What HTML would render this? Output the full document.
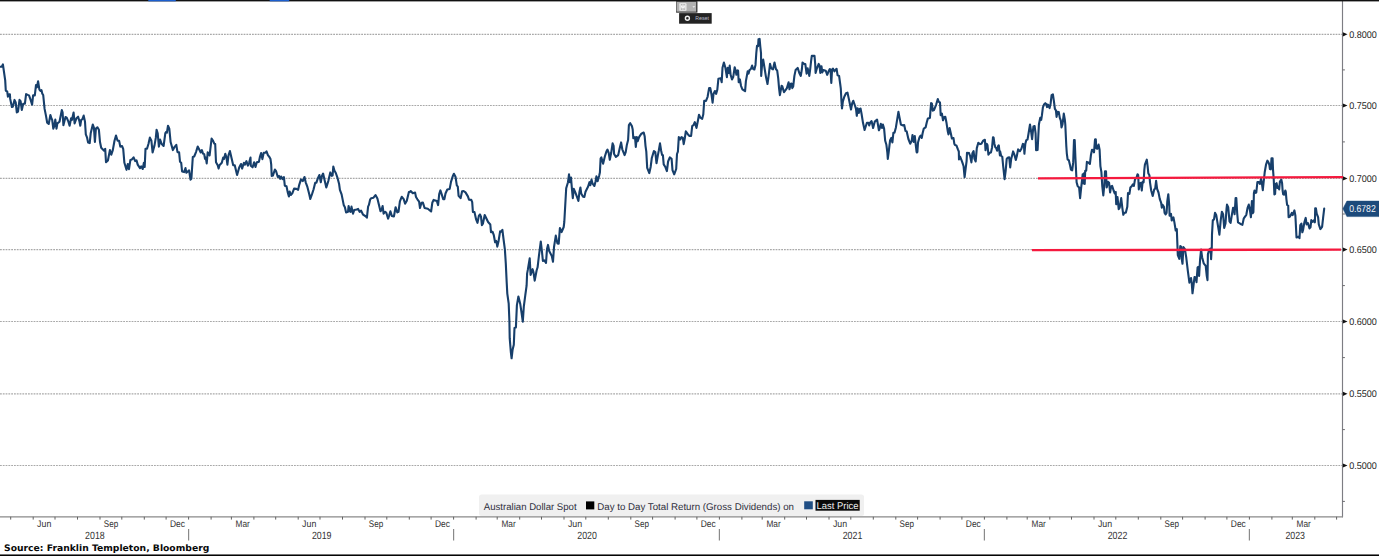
<!DOCTYPE html>
<html lang="en"><head><meta charset="utf-8"><title>Australian Dollar Spot</title>
<style>
html,body{margin:0;padding:0;background:#fff;}
body{width:1379px;height:556px;overflow:hidden;position:relative;font-family:"Liberation Sans","DejaVu Sans",sans-serif;}
svg{position:absolute;left:0;top:0;display:block;}
text{font-family:"Liberation Sans","DejaVu Sans",sans-serif;text-rendering:geometricPrecision;}
.ax{font-size:9.7px;fill:#1c1c1c;}
.mo{font-size:9.6px;fill:#333;}
.yr{font-size:10.5px;fill:#333;}
.lg{font-size:9.8px;fill:#2e2e3c;}
.src{font-family:"DejaVu Sans","Liberation Sans",sans-serif;font-weight:bold;font-size:9.0px;fill:#0a0a0a;}
</style></head><body>
<svg width="1379" height="556" viewBox="0 0 1379 556">
<rect x="0" y="0" width="1379" height="556" fill="#ffffff"/>

<g stroke="#a9a9a9" stroke-width="1.2" stroke-dasharray="1.8 1.0" fill="none">
<line x1="0" y1="34.3" x2="1342.0" y2="34.3"/>
<line x1="0" y1="105.5" x2="1342.0" y2="105.5"/>
<line x1="0" y1="178.4" x2="1342.0" y2="178.4"/>
<line x1="0" y1="249.6" x2="1342.0" y2="249.6"/>
<line x1="0" y1="321.5" x2="1342.0" y2="321.5"/>
<line x1="0" y1="393.8" x2="1342.0" y2="393.8"/>
<line x1="0" y1="465.5" x2="1342.0" y2="465.5"/>
</g>
<line x1="1342.5" y1="1" x2="1342.5" y2="517.3" stroke="#7d7d83" stroke-width="1.15"/>
<line x1="0" y1="516.8" x2="1343.0" y2="516.8" stroke="#8a8a8a" stroke-width="1.3"/>
<path d="M1342.9 32.2 L1347.5 34.3 L1342.9 36.4 Z" fill="#111"/>
<text class="ax" x="1349.2" y="37.9" textLength="27.6" lengthAdjust="spacingAndGlyphs">0.8000</text>
<path d="M1342.9 103.4 L1347.5 105.5 L1342.9 107.6 Z" fill="#111"/>
<text class="ax" x="1349.2" y="109.1" textLength="27.6" lengthAdjust="spacingAndGlyphs">0.7500</text>
<path d="M1342.9 176.3 L1347.5 178.4 L1342.9 180.5 Z" fill="#111"/>
<text class="ax" x="1349.2" y="182.0" textLength="27.6" lengthAdjust="spacingAndGlyphs">0.7000</text>
<path d="M1342.9 247.5 L1347.5 249.6 L1342.9 251.7 Z" fill="#111"/>
<text class="ax" x="1349.2" y="253.2" textLength="27.6" lengthAdjust="spacingAndGlyphs">0.6500</text>
<path d="M1342.9 319.4 L1347.5 321.5 L1342.9 323.6 Z" fill="#111"/>
<text class="ax" x="1349.2" y="325.1" textLength="27.6" lengthAdjust="spacingAndGlyphs">0.6000</text>
<path d="M1342.9 391.7 L1347.5 393.8 L1342.9 395.9 Z" fill="#111"/>
<text class="ax" x="1349.2" y="397.4" textLength="27.6" lengthAdjust="spacingAndGlyphs">0.5500</text>
<path d="M1342.9 463.4 L1347.5 465.5 L1342.9 467.6 Z" fill="#111"/>
<text class="ax" x="1349.2" y="469.1" textLength="27.6" lengthAdjust="spacingAndGlyphs">0.5000</text>
<line x1="1342.5" y1="69.9" x2="1344.9" y2="69.9" stroke="#6a6a6e" stroke-width="1"/>
<line x1="1342.5" y1="141.9" x2="1344.9" y2="141.9" stroke="#6a6a6e" stroke-width="1"/>
<line x1="1342.5" y1="214.0" x2="1344.9" y2="214.0" stroke="#6a6a6e" stroke-width="1"/>
<line x1="1342.5" y1="285.6" x2="1344.9" y2="285.6" stroke="#6a6a6e" stroke-width="1"/>
<line x1="1342.5" y1="357.6" x2="1344.9" y2="357.6" stroke="#6a6a6e" stroke-width="1"/>
<line x1="1342.5" y1="429.6" x2="1344.9" y2="429.6" stroke="#6a6a6e" stroke-width="1"/>
<line x1="1342.5" y1="501.4" x2="1344.9" y2="501.4" stroke="#6a6a6e" stroke-width="1"/>
<line x1="10.7" y1="516.8" x2="10.7" y2="519.6" stroke="#626262" stroke-width="1"/>
<line x1="33.2" y1="516.8" x2="33.2" y2="519.6" stroke="#626262" stroke-width="1"/>
<line x1="55.0" y1="516.8" x2="55.0" y2="519.6" stroke="#626262" stroke-width="1"/>
<line x1="77.5" y1="516.8" x2="77.5" y2="519.6" stroke="#626262" stroke-width="1"/>
<line x1="100.0" y1="516.8" x2="100.0" y2="519.6" stroke="#626262" stroke-width="1"/>
<line x1="121.8" y1="516.8" x2="121.8" y2="519.6" stroke="#626262" stroke-width="1"/>
<line x1="144.3" y1="516.8" x2="144.3" y2="519.6" stroke="#626262" stroke-width="1"/>
<line x1="166.1" y1="516.8" x2="166.1" y2="519.6" stroke="#626262" stroke-width="1"/>
<line x1="188.6" y1="516.8" x2="188.6" y2="519.6" stroke="#626262" stroke-width="1"/>
<line x1="188.6" y1="529" x2="188.6" y2="540.5" stroke="#8a8a8a" stroke-width="1.2"/>
<line x1="211.1" y1="516.8" x2="211.1" y2="519.6" stroke="#626262" stroke-width="1"/>
<line x1="231.4" y1="516.8" x2="231.4" y2="519.6" stroke="#626262" stroke-width="1"/>
<line x1="253.9" y1="516.8" x2="253.9" y2="519.6" stroke="#626262" stroke-width="1"/>
<line x1="275.7" y1="516.8" x2="275.7" y2="519.6" stroke="#626262" stroke-width="1"/>
<line x1="298.2" y1="516.8" x2="298.2" y2="519.6" stroke="#626262" stroke-width="1"/>
<line x1="320.0" y1="516.8" x2="320.0" y2="519.6" stroke="#626262" stroke-width="1"/>
<line x1="342.5" y1="516.8" x2="342.5" y2="519.6" stroke="#626262" stroke-width="1"/>
<line x1="365.0" y1="516.8" x2="365.0" y2="519.6" stroke="#626262" stroke-width="1"/>
<line x1="386.8" y1="516.8" x2="386.8" y2="519.6" stroke="#626262" stroke-width="1"/>
<line x1="409.3" y1="516.8" x2="409.3" y2="519.6" stroke="#626262" stroke-width="1"/>
<line x1="431.1" y1="516.8" x2="431.1" y2="519.6" stroke="#626262" stroke-width="1"/>
<line x1="453.6" y1="516.8" x2="453.6" y2="519.6" stroke="#626262" stroke-width="1"/>
<line x1="453.6" y1="529" x2="453.6" y2="540.5" stroke="#8a8a8a" stroke-width="1.2"/>
<line x1="476.1" y1="516.8" x2="476.1" y2="519.6" stroke="#626262" stroke-width="1"/>
<line x1="497.2" y1="516.8" x2="497.2" y2="519.6" stroke="#626262" stroke-width="1"/>
<line x1="519.7" y1="516.8" x2="519.7" y2="519.6" stroke="#626262" stroke-width="1"/>
<line x1="541.5" y1="516.8" x2="541.5" y2="519.6" stroke="#626262" stroke-width="1"/>
<line x1="564.0" y1="516.8" x2="564.0" y2="519.6" stroke="#626262" stroke-width="1"/>
<line x1="585.8" y1="516.8" x2="585.8" y2="519.6" stroke="#626262" stroke-width="1"/>
<line x1="608.3" y1="516.8" x2="608.3" y2="519.6" stroke="#626262" stroke-width="1"/>
<line x1="630.8" y1="516.8" x2="630.8" y2="519.6" stroke="#626262" stroke-width="1"/>
<line x1="652.6" y1="516.8" x2="652.6" y2="519.6" stroke="#626262" stroke-width="1"/>
<line x1="675.1" y1="516.8" x2="675.1" y2="519.6" stroke="#626262" stroke-width="1"/>
<line x1="696.9" y1="516.8" x2="696.9" y2="519.6" stroke="#626262" stroke-width="1"/>
<line x1="719.4" y1="516.8" x2="719.4" y2="519.6" stroke="#626262" stroke-width="1"/>
<line x1="719.4" y1="529" x2="719.4" y2="540.5" stroke="#8a8a8a" stroke-width="1.2"/>
<line x1="741.9" y1="516.8" x2="741.9" y2="519.6" stroke="#626262" stroke-width="1"/>
<line x1="762.2" y1="516.8" x2="762.2" y2="519.6" stroke="#626262" stroke-width="1"/>
<line x1="784.7" y1="516.8" x2="784.7" y2="519.6" stroke="#626262" stroke-width="1"/>
<line x1="806.5" y1="516.8" x2="806.5" y2="519.6" stroke="#626262" stroke-width="1"/>
<line x1="829.0" y1="516.8" x2="829.0" y2="519.6" stroke="#626262" stroke-width="1"/>
<line x1="850.8" y1="516.8" x2="850.8" y2="519.6" stroke="#626262" stroke-width="1"/>
<line x1="873.3" y1="516.8" x2="873.3" y2="519.6" stroke="#626262" stroke-width="1"/>
<line x1="895.8" y1="516.8" x2="895.8" y2="519.6" stroke="#626262" stroke-width="1"/>
<line x1="917.6" y1="516.8" x2="917.6" y2="519.6" stroke="#626262" stroke-width="1"/>
<line x1="940.1" y1="516.8" x2="940.1" y2="519.6" stroke="#626262" stroke-width="1"/>
<line x1="961.9" y1="516.8" x2="961.9" y2="519.6" stroke="#626262" stroke-width="1"/>
<line x1="984.4" y1="516.8" x2="984.4" y2="519.6" stroke="#626262" stroke-width="1"/>
<line x1="984.4" y1="529" x2="984.4" y2="540.5" stroke="#8a8a8a" stroke-width="1.2"/>
<line x1="1006.9" y1="516.8" x2="1006.9" y2="519.6" stroke="#626262" stroke-width="1"/>
<line x1="1027.2" y1="516.8" x2="1027.2" y2="519.6" stroke="#626262" stroke-width="1"/>
<line x1="1049.8" y1="516.8" x2="1049.8" y2="519.6" stroke="#626262" stroke-width="1"/>
<line x1="1071.5" y1="516.8" x2="1071.5" y2="519.6" stroke="#626262" stroke-width="1"/>
<line x1="1094.0" y1="516.8" x2="1094.0" y2="519.6" stroke="#626262" stroke-width="1"/>
<line x1="1115.8" y1="516.8" x2="1115.8" y2="519.6" stroke="#626262" stroke-width="1"/>
<line x1="1138.3" y1="516.8" x2="1138.3" y2="519.6" stroke="#626262" stroke-width="1"/>
<line x1="1160.8" y1="516.8" x2="1160.8" y2="519.6" stroke="#626262" stroke-width="1"/>
<line x1="1182.6" y1="516.8" x2="1182.6" y2="519.6" stroke="#626262" stroke-width="1"/>
<line x1="1205.1" y1="516.8" x2="1205.1" y2="519.6" stroke="#626262" stroke-width="1"/>
<line x1="1226.9" y1="516.8" x2="1226.9" y2="519.6" stroke="#626262" stroke-width="1"/>
<line x1="1249.4" y1="516.8" x2="1249.4" y2="519.6" stroke="#626262" stroke-width="1"/>
<line x1="1249.4" y1="529" x2="1249.4" y2="540.5" stroke="#8a8a8a" stroke-width="1.2"/>
<line x1="1271.9" y1="516.8" x2="1271.9" y2="519.6" stroke="#626262" stroke-width="1"/>
<line x1="1292.3" y1="516.8" x2="1292.3" y2="519.6" stroke="#626262" stroke-width="1"/>
<line x1="1314.8" y1="516.8" x2="1314.8" y2="519.6" stroke="#626262" stroke-width="1"/>
<line x1="1336.6" y1="516.8" x2="1336.6" y2="519.6" stroke="#626262" stroke-width="1"/>
<text class="mo" x="37.1" y="526.9" textLength="14.2" lengthAdjust="spacingAndGlyphs">Jun</text>
<text class="mo" x="103.8" y="526.9" textLength="14.4" lengthAdjust="spacingAndGlyphs">Sep</text>
<text class="mo" x="169.9" y="526.9" textLength="15.0" lengthAdjust="spacingAndGlyphs">Dec</text>
<text class="mo" x="235.6" y="526.9" textLength="14.3" lengthAdjust="spacingAndGlyphs">Mar</text>
<text class="mo" x="302.1" y="526.9" textLength="14.2" lengthAdjust="spacingAndGlyphs">Jun</text>
<text class="mo" x="368.8" y="526.9" textLength="14.4" lengthAdjust="spacingAndGlyphs">Sep</text>
<text class="mo" x="435.0" y="526.9" textLength="15.0" lengthAdjust="spacingAndGlyphs">Dec</text>
<text class="mo" x="501.4" y="526.9" textLength="14.3" lengthAdjust="spacingAndGlyphs">Mar</text>
<text class="mo" x="567.9" y="526.9" textLength="14.2" lengthAdjust="spacingAndGlyphs">Jun</text>
<text class="mo" x="634.6" y="526.9" textLength="14.4" lengthAdjust="spacingAndGlyphs">Sep</text>
<text class="mo" x="700.7" y="526.9" textLength="15.0" lengthAdjust="spacingAndGlyphs">Dec</text>
<text class="mo" x="766.4" y="526.9" textLength="14.3" lengthAdjust="spacingAndGlyphs">Mar</text>
<text class="mo" x="832.9" y="526.9" textLength="14.2" lengthAdjust="spacingAndGlyphs">Jun</text>
<text class="mo" x="899.6" y="526.9" textLength="14.4" lengthAdjust="spacingAndGlyphs">Sep</text>
<text class="mo" x="965.8" y="526.9" textLength="15.0" lengthAdjust="spacingAndGlyphs">Dec</text>
<text class="mo" x="1031.5" y="526.9" textLength="14.3" lengthAdjust="spacingAndGlyphs">Mar</text>
<text class="mo" x="1097.9" y="526.9" textLength="14.2" lengthAdjust="spacingAndGlyphs">Jun</text>
<text class="mo" x="1164.6" y="526.9" textLength="14.4" lengthAdjust="spacingAndGlyphs">Sep</text>
<text class="mo" x="1230.8" y="526.9" textLength="15.0" lengthAdjust="spacingAndGlyphs">Dec</text>
<text class="mo" x="1296.5" y="526.9" textLength="14.3" lengthAdjust="spacingAndGlyphs">Mar</text>
<text class="yr" x="85.1" y="538.7" textLength="19.6" lengthAdjust="spacingAndGlyphs">2018</text>
<text class="yr" x="311.9" y="538.7" textLength="19.6" lengthAdjust="spacingAndGlyphs">2019</text>
<text class="yr" x="577.3" y="538.7" textLength="19.6" lengthAdjust="spacingAndGlyphs">2020</text>
<text class="yr" x="842.7" y="538.7" textLength="19.6" lengthAdjust="spacingAndGlyphs">2021</text>
<text class="yr" x="1107.7" y="538.7" textLength="19.6" lengthAdjust="spacingAndGlyphs">2022</text>
<text class="yr" x="1285.4" y="538.7" textLength="19.6" lengthAdjust="spacingAndGlyphs">2023</text>
<path d="M0.0 66.7 L1.7 66.7 L2.9 64.4 L5.2 80.4 L5.8 90.8 L7.2 91.4 L7.9 96.6 L9.0 94.3 L9.9 94.3 L10.2 98.9 L11.9 107.0 L12.8 106.8 L14.5 99.9 L15.7 102.4 L16.8 112.5 L18.0 111.7 L19.5 99.9 L20.6 101.2 L21.8 109.9 L23.2 103.8 L24.9 103.6 L26.1 94.1 L27.8 94.9 L29.0 95.4 L30.7 100.1 L32.1 104.7 L33.1 95.4 L34.8 95.4 L36.0 85.0 L36.9 87.3 L38.1 81.3 L39.4 89.6 L40.4 90.8 L41.5 90.2 L42.3 93.7 L43.2 95.0 L44.6 108.9 L46.0 115.9 L47.2 122.8 L48.7 124.0 L50.4 115.0 L51.6 118.8 L52.2 119.9 L53.3 128.6 L54.2 126.3 L55.3 119.6 L56.5 128.6 L57.4 123.4 L59.5 121.7 L61.8 110.1 L62.6 112.4 L63.4 125.2 L65.5 117.0 L66.7 117.6 L68.4 121.7 L69.6 125.7 L71.1 118.2 L71.9 119.9 L73.6 112.6 L74.6 123.4 L76.5 118.2 L78.1 116.7 L79.4 121.1 L80.3 125.7 L81.2 119.9 L82.3 119.4 L83.7 115.6 L85.0 121.7 L85.8 134.4 L87.0 137.3 L88.1 142.6 L89.7 143.1 L90.7 133.3 L92.8 124.6 L93.9 127.5 L94.9 142.0 L95.9 128.6 L97.4 127.3 L98.9 129.8 L100.0 142.0 L101.2 147.8 L102.9 149.5 L104.1 150.7 L105.2 148.9 L106.0 162.3 L107.9 160.5 L109.9 150.1 L111.3 154.7 L112.8 150.1 L114.5 140.8 L116.0 135.6 L117.6 140.8 L119.1 140.8 L120.3 146.6 L122.0 146.0 L123.2 148.9 L124.4 162.8 L126.5 169.8 L127.8 164.0 L129.0 169.2 L130.4 159.9 L131.9 159.4 L133.6 157.3 L135.2 161.1 L136.5 160.3 L137.7 164.6 L140.0 168.1 L141.2 166.3 L142.7 169.0 L143.9 162.8 L144.7 166.9 L145.5 148.9 L147.0 148.7 L148.5 143.7 L149.9 137.6 L151.4 140.8 L152.6 152.4 L154.5 145.4 L155.8 137.9 L156.6 129.7 L157.7 133.3 L158.9 146.6 L160.1 139.6 L161.5 143.7 L163.6 146.0 L165.3 133.3 L165.9 132.1 L166.9 132.7 L168.0 125.7 L169.3 128.6 L170.6 142.0 L172.9 150.1 L174.8 146.6 L176.3 144.9 L177.5 152.2 L179.1 152.4 L180.0 161.7 L181.2 162.8 L182.1 171.5 L184.1 172.1 L185.5 168.1 L186.4 172.7 L189.1 170.4 L190.5 179.7 L191.4 178.5 L192.8 157.0 L194.2 156.5 L196.1 151.8 L197.7 146.6 L199.5 150.1 L200.7 152.4 L201.9 150.1 L203.0 153.6 L204.2 154.1 L205.0 158.8 L205.8 157.6 L206.7 163.4 L207.7 152.4 L209.6 155.3 L211.6 138.5 L213.1 140.8 L214.3 143.7 L215.2 144.0 L216.0 162.3 L217.7 165.2 L218.6 168.6 L219.5 165.2 L221.8 162.8 L223.2 157.6 L224.1 158.8 L225.3 153.8 L226.5 157.6 L227.4 164.6 L228.5 155.3 L229.9 151.0 L231.7 158.8 L233.2 165.2 L234.8 165.4 L237.1 175.0 L239.2 167.5 L241.0 164.0 L242.1 168.6 L243.9 162.8 L245.0 164.6 L246.4 161.1 L247.9 165.7 L249.1 162.8 L250.5 157.6 L250.8 165.7 L252.6 167.3 L254.1 162.3 L255.5 166.9 L256.8 162.3 L258.9 161.9 L260.0 156.5 L261.1 153.1 L262.4 159.1 L263.7 152.8 L265.5 152.6 L266.5 151.4 L267.9 155.2 L269.4 157.0 L270.5 159.1 L271.2 164.3 L271.7 175.9 L272.9 175.6 L274.9 169.5 L276.1 171.2 L277.8 177.0 L279.0 175.9 L280.2 178.8 L281.1 176.5 L282.5 179.1 L283.9 177.0 L284.8 185.7 L286.5 186.3 L287.7 192.1 L288.9 196.5 L289.7 191.5 L290.8 195.0 L292.3 193.3 L294.1 188.6 L296.4 188.9 L298.1 189.8 L299.3 184.6 L301.0 179.4 L302.8 181.1 L304.5 177.0 L305.7 182.3 L307.4 186.9 L309.2 193.9 L310.3 198.9 L312.1 193.9 L313.6 189.2 L315.2 182.8 L316.4 182.6 L317.9 178.2 L319.4 175.0 L320.8 182.3 L321.9 175.9 L323.1 173.6 L324.8 181.1 L326.3 187.5 L328.3 181.1 L330.3 172.4 L331.8 175.9 L332.6 175.3 L333.3 166.6 L334.5 170.7 L335.8 173.0 L337.6 178.2 L339.1 184.0 L339.9 189.8 L341.6 194.4 L343.7 204.9 L344.9 207.2 L346.1 212.4 L348.0 211.8 L348.6 206.0 L349.8 211.3 L350.7 211.8 L351.5 206.6 L353.0 213.6 L354.2 210.1 L356.7 209.5 L358.1 208.9 L359.6 211.8 L361.1 210.7 L363.1 214.7 L366.0 216.5 L366.9 217.6 L368.1 206.6 L368.9 204.9 L370.1 199.7 L371.2 198.2 L373.5 197.7 L375.5 195.0 L377.4 198.5 L378.8 204.3 L380.5 211.3 L381.7 209.5 L382.6 206.0 L383.6 213.6 L385.2 211.8 L386.3 212.8 L388.1 218.6 L389.2 215.3 L390.4 211.3 L391.8 215.9 L393.9 216.5 L395.6 207.2 L397.3 212.4 L398.5 211.8 L399.9 201.4 L401.7 196.8 L403.7 199.1 L405.1 203.7 L406.8 200.8 L408.9 192.1 L410.0 191.9 L410.7 191.0 L412.8 193.3 L415.1 192.6 L416.0 197.0 L417.4 199.3 L419.1 201.6 L420.0 208.0 L421.5 202.8 L422.9 202.6 L424.6 208.0 L427.8 208.8 L431.1 211.5 L432.3 202.8 L433.6 199.9 L436.9 201.1 L438.1 205.1 L439.2 194.1 L440.4 190.4 L441.8 194.7 L443.2 199.1 L444.4 199.1 L445.5 193.5 L447.3 189.5 L449.7 188.9 L451.0 181.9 L452.8 176.1 L453.9 173.8 L455.5 176.7 L456.8 185.4 L457.8 186.6 L458.6 195.8 L460.6 198.2 L462.1 191.2 L463.6 191.0 L465.5 192.4 L467.9 196.4 L469.0 199.6 L471.3 199.9 L472.2 202.2 L472.9 211.9 L474.5 212.1 L476.0 219.0 L477.5 222.8 L478.9 215.6 L480.0 214.4 L481.0 216.7 L481.9 225.1 L482.9 223.7 L484.7 215.0 L486.4 218.5 L488.1 222.0 L490.3 224.5 L491.0 232.1 L492.6 231.8 L493.8 235.2 L495.1 242.2 L496.3 240.9 L497.3 246.6 L498.6 240.9 L500.1 231.4 L501.1 231.8 L502.4 229.8 L503.6 239.6 L504.9 249.7 L505.8 263.6 L506.7 282.5 L507.3 293.6 L508.7 303.7 L509.4 321.0 L509.7 338.2 L510.9 352.6 L511.6 358.3 L512.6 349.7 L513.8 344.7 L514.5 327.9 L515.9 327.4 L516.9 305.1 L518.4 296.5 L520.2 303.7 L521.7 313.8 L522.8 321.7 L523.8 306.6 L525.3 295.1 L526.6 285.7 L527.1 273.6 L527.8 269.9 L529.7 258.3 L530.6 274.9 L532.6 269.2 L533.5 272.4 L534.7 280.6 L536.6 270.5 L537.6 267.3 L538.9 256.0 L540.8 241.5 L541.9 251.0 L542.9 261.0 L544.4 260.4 L546.0 262.9 L547.0 249.1 L548.0 244.9 L549.2 251.0 L551.8 256.0 L553.0 261.7 L554.0 247.2 L555.8 235.6 L557.4 243.4 L558.7 243.7 L559.9 228.0 L561.6 232.1 L563.7 227.0 L564.3 222.0 L566.2 188.3 L568.0 182.2 L569.0 174.3 L569.9 182.2 L571.0 177.6 L571.8 187.3 L572.8 198.2 L573.8 188.8 L575.3 192.3 L576.8 196.4 L578.4 201.0 L579.4 192.3 L580.4 187.5 L581.2 193.4 L582.9 196.6 L584.4 196.9 L585.5 191.8 L588.0 186.8 L589.5 182.2 L590.3 185.2 L591.5 179.6 L592.6 183.7 L594.4 186.0 L595.6 181.2 L596.4 176.3 L597.6 181.2 L599.1 176.0 L599.9 172.5 L600.6 158.6 L601.4 157.4 L603.1 163.8 L604.9 156.3 L606.4 151.6 L607.5 149.6 L608.7 152.8 L609.8 159.8 L611.2 152.8 L612.6 143.3 L613.6 145.8 L614.1 154.0 L615.9 156.9 L618.2 155.1 L619.6 148.7 L621.1 142.4 L622.3 149.3 L624.6 155.1 L625.7 152.2 L626.9 144.7 L628.1 140.0 L628.9 125.0 L630.2 123.2 L631.9 126.1 L632.7 129.6 L633.3 138.3 L635.0 137.1 L635.8 147.0 L636.8 137.1 L637.7 141.2 L639.1 137.1 L641.4 133.7 L643.7 132.5 L644.7 136.6 L645.5 145.8 L646.3 151.6 L647.2 167.9 L649.3 173.1 L650.7 166.7 L651.8 158.0 L653.9 151.1 L655.3 152.2 L656.5 163.2 L657.9 155.1 L658.8 150.5 L660.0 143.3 L661.1 150.5 L662.1 155.1 L662.9 155.1 L663.7 164.4 L665.2 166.7 L666.9 171.1 L668.1 161.5 L669.8 157.4 L671.6 158.8 L672.5 170.2 L674.2 174.3 L676.2 169.0 L677.0 154.0 L677.9 151.6 L678.8 137.1 L680.3 139.5 L681.4 137.1 L682.8 137.7 L683.7 144.1 L684.9 137.7 L685.8 131.3 L687.8 134.2 L689.5 136.0 L691.1 136.0 L692.2 126.1 L693.6 125.0 L694.8 122.1 L696.5 127.9 L698.0 120.3 L699.0 114.8 L700.4 117.7 L702.2 118.8 L703.3 114.2 L704.2 100.9 L706.0 100.9 L707.6 96.8 L709.1 88.1 L710.3 88.1 L711.5 94.5 L712.6 102.6 L713.5 93.9 L714.9 91.0 L716.1 93.9 L717.3 89.8 L718.4 78.8 L720.7 78.2 L721.7 82.3 L722.5 67.8 L723.9 62.6 L725.4 67.8 L726.9 77.1 L727.7 67.8 L728.9 73.0 L729.7 65.5 L730.6 74.8 L732.0 79.4 L733.2 77.1 L734.7 67.2 L735.5 70.1 L736.4 74.8 L737.6 70.4 L738.1 70.7 L738.7 82.3 L739.9 79.4 L741.0 85.8 L742.4 89.3 L745.1 91.2 L745.9 81.1 L747.7 71.3 L748.6 73.6 L749.5 70.1 L750.9 69.0 L752.1 65.5 L753.2 69.0 L754.4 69.5 L755.5 64.9 L756.3 53.0 L757.0 45.8 L758.1 46.1 L758.5 39.3 L759.6 38.9 L760.3 46.5 L761.0 53.0 L761.2 75.9 L762.0 65.4 L763.2 59.6 L764.2 66.0 L766.0 77.1 L767.5 84.0 L768.9 73.6 L770.0 63.9 L771.2 68.3 L773.0 69.3 L774.5 62.5 L775.9 69.0 L777.2 70.7 L778.2 78.2 L779.1 88.7 L779.9 95.1 L781.6 85.8 L782.3 86.4 L784.0 92.2 L785.7 89.8 L786.9 88.1 L788.6 82.3 L789.5 89.3 L790.7 84.0 L791.5 83.5 L792.3 88.1 L793.2 86.4 L794.4 75.9 L795.6 70.1 L797.7 67.9 L799.3 73.0 L800.8 75.9 L801.9 69.0 L802.5 62.5 L804.3 64.0 L805.3 64.0 L806.6 73.6 L807.7 68.4 L809.3 75.9 L810.3 68.3 L811.1 61.0 L811.8 55.9 L814.5 55.9 L815.2 63.9 L815.6 73.0 L816.9 68.3 L818.7 63.9 L819.5 65.4 L820.3 73.0 L821.5 66.3 L822.3 72.4 L823.4 70.1 L825.7 70.7 L827.2 74.8 L828.6 71.3 L829.8 69.0 L830.6 70.5 L831.3 82.9 L832.1 69.5 L832.9 68.6 L834.4 71.3 L836.6 68.8 L837.6 75.3 L839.1 75.9 L840.2 84.0 L840.8 88.7 L841.4 100.3 L842.0 108.4 L842.9 101.4 L844.3 96.8 L846.0 93.3 L847.5 92.7 L848.9 99.1 L851.0 109.5 L852.2 103.1 L853.3 100.8 L855.1 106.0 L856.0 108.9 L856.8 115.8 L857.6 108.3 L858.8 112.9 L859.7 108.9 L860.6 108.6 L861.5 113.5 L863.0 122.8 L864.6 130.0 L866.9 122.8 L868.4 122.8 L869.2 125.4 L870.4 122.2 L871.6 121.1 L873.1 128.0 L874.8 121.6 L877.1 119.6 L878.9 130.3 L879.7 128.6 L880.8 123.7 L882.0 128.0 L882.9 124.5 L884.1 128.6 L885.2 140.8 L886.4 144.8 L887.3 152.0 L887.8 158.9 L888.7 152.0 L890.1 140.2 L891.3 137.9 L892.4 142.5 L893.4 132.7 L894.5 132.7 L895.9 127.4 L898.4 111.8 L899.4 117.0 L900.9 124.5 L902.6 125.4 L904.2 125.1 L905.5 130.9 L906.7 131.5 L908.4 139.0 L910.2 143.7 L911.7 140.8 L912.5 135.0 L913.7 141.9 L914.8 136.1 L915.6 143.7 L916.6 152.0 L916.9 152.5 L917.4 152.0 L918.0 142.5 L919.5 137.3 L920.6 135.6 L921.8 137.9 L922.6 133.2 L923.8 128.6 L925.6 127.4 L926.8 122.2 L927.9 118.4 L929.9 117.9 L931.1 103.1 L931.9 103.7 L932.8 110.6 L934.0 110.0 L936.1 104.8 L937.8 99.0 L938.8 101.9 L940.0 102.5 L940.7 115.3 L941.9 113.5 L943.0 120.3 L944.2 117.0 L945.3 116.8 L946.5 122.8 L947.7 130.9 L948.5 134.4 L949.6 128.0 L950.8 133.2 L951.9 138.5 L953.5 138.1 L954.3 143.7 L955.0 145.0 L956.4 145.4 L957.9 149.4 L958.8 151.5 L959.0 159.4 L960.2 156.8 L961.4 159.8 L962.5 162.9 L963.6 166.3 L964.6 177.2 L965.7 168.1 L966.6 161.1 L967.0 152.8 L968.1 153.3 L968.9 152.8 L970.1 155.9 L971.4 162.4 L972.4 153.3 L973.6 151.1 L974.4 158.5 L975.7 161.5 L976.8 148.1 L978.3 142.8 L980.1 144.1 L981.4 143.7 L983.1 140.7 L984.9 139.8 L985.5 150.2 L986.6 143.7 L987.5 145.0 L988.4 154.6 L989.7 152.8 L991.0 152.4 L992.1 147.2 L993.0 137.2 L993.6 137.6 L994.4 143.7 L995.3 147.2 L996.2 148.1 L997.1 150.7 L998.2 145.9 L998.8 145.4 L999.9 155.5 L1000.1 151.2 L1001.1 155.8 L1002.3 156.8 L1003.1 165.5 L1004.6 179.2 L1005.7 170.5 L1006.7 158.9 L1007.7 157.8 L1009.2 157.3 L1010.2 167.5 L1011.2 158.9 L1013.1 151.4 L1014.3 154.3 L1015.8 159.9 L1016.8 156.3 L1018.1 149.4 L1019.9 151.2 L1021.4 148.7 L1022.9 143.9 L1023.9 144.6 L1024.4 153.8 L1025.3 144.1 L1026.3 140.1 L1027.5 139.6 L1028.5 133.7 L1030.0 124.5 L1031.0 130.6 L1032.1 139.2 L1033.4 126.5 L1034.6 126.0 L1035.6 133.7 L1036.1 150.2 L1037.6 150.0 L1038.9 124.5 L1040.2 117.9 L1041.2 119.9 L1041.9 115.4 L1042.9 107.3 L1044.2 104.2 L1045.3 103.2 L1046.3 104.0 L1047.0 107.1 L1048.0 104.7 L1049.6 108.1 L1050.6 103.7 L1051.6 95.1 L1052.9 94.3 L1053.9 101.2 L1054.9 108.8 L1055.9 110.3 L1056.6 116.9 L1057.4 111.8 L1058.8 112.1 L1059.8 117.9 L1060.8 120.5 L1061.5 127.4 L1062.5 124.5 L1063.8 113.6 L1064.8 119.4 L1065.3 124.5 L1065.8 135.5 L1066.3 146.0 L1066.8 153.3 L1067.6 159.4 L1068.9 160.4 L1070.1 165.5 L1070.9 169.5 L1072.2 170.3 L1073.2 162.4 L1074.0 140.1 L1074.7 140.1 L1075.4 157.3 L1076.6 182.3 L1077.6 185.9 L1079.1 187.4 L1080.1 198.1 L1081.1 188.4 L1082.7 174.2 L1083.4 183.4 L1084.0 173.2 L1084.7 183.9 L1085.2 170.7 L1086.2 170.7 L1086.9 161.9 L1088.4 162.4 L1089.9 163.9 L1090.9 155.3 L1092.0 149.7 L1093.3 150.2 L1094.0 152.3 L1095.0 139.6 L1095.8 139.3 L1096.3 148.2 L1097.3 148.7 L1098.6 144.6 L1099.6 149.7 L1100.4 166.1 L1101.4 172.2 L1102.3 186.4 L1103.3 195.5 L1104.3 185.4 L1105.0 171.2 L1106.0 171.2 L1106.7 187.4 L1108.0 181.8 L1109.1 182.8 L1110.1 192.5 L1111.1 186.4 L1112.1 185.9 L1113.6 190.5 L1114.8 193.5 L1115.7 192.0 L1116.2 204.2 L1117.5 197.1 L1118.7 209.2 L1119.7 207.7 L1121.2 198.1 L1122.3 207.7 L1123.3 214.8 L1124.3 212.8 L1125.8 212.8 L1127.3 206.7 L1128.0 193.0 L1129.4 194.0 L1130.4 187.4 L1131.9 185.9 L1132.9 184.4 L1133.9 185.9 L1135.1 178.8 L1136.5 177.8 L1137.5 174.2 L1138.2 175.2 L1138.8 189.4 L1139.8 183.4 L1140.8 182.8 L1141.8 190.5 L1142.6 181.8 L1143.6 182.3 L1144.3 170.2 L1144.9 164.6 L1146.8 159.7 L1147.6 166.1 L1148.3 173.2 L1149.4 175.2 L1150.0 182.3 L1151.2 190.5 L1152.7 196.0 L1154.2 189.4 L1155.2 188.4 L1156.1 180.8 L1157.1 188.9 L1158.5 192.5 L1159.8 199.1 L1161.1 202.6 L1161.8 207.7 L1162.6 204.7 L1163.9 206.7 L1164.6 212.8 L1165.6 214.3 L1166.6 212.8 L1167.3 201.1 L1168.3 194.2 L1169.3 206.2 L1169.6 215.8 L1171.0 213.8 L1171.7 220.4 L1173.4 217.3 L1174.4 222.4 L1175.7 230.5 L1176.8 229.0 L1177.8 255.2 L1179.3 258.8 L1180.3 246.1 L1181.1 246.6 L1181.8 259.3 L1182.5 263.8 L1183.4 247.1 L1184.9 249.1 L1186.2 257.2 L1187.9 271.4 L1189.4 282.6 L1191.0 278.0 L1191.7 282.6 L1192.5 293.3 L1193.5 285.7 L1194.5 277.0 L1195.7 277.5 L1196.5 282.1 L1197.6 267.4 L1198.1 266.9 L1199.1 276.0 L1200.1 259.3 L1201.1 249.6 L1202.1 257.2 L1203.7 263.3 L1205.7 265.9 L1206.7 275.5 L1207.5 280.1 L1207.9 254.2 L1209.2 249.6 L1210.5 248.6 L1211.1 259.3 L1211.8 247.1 L1212.0 234.6 L1212.8 220.4 L1214.0 219.4 L1215.0 212.8 L1216.3 215.3 L1217.9 225.4 L1219.4 234.6 L1220.7 220.4 L1221.9 211.7 L1223.1 214.3 L1224.2 228.0 L1225.5 223.4 L1226.5 209.2 L1227.0 204.6 L1228.2 207.2 L1229.5 221.4 L1230.6 222.9 L1232.1 213.3 L1233.1 207.7 L1233.9 208.2 L1234.6 214.3 L1235.6 198.0 L1236.3 198.0 L1237.2 213.3 L1238.0 222.4 L1239.7 223.4 L1241.2 224.4 L1242.4 224.9 L1243.8 218.3 L1246.3 214.8 L1247.5 208.2 L1248.8 204.6 L1249.8 209.2 L1250.9 217.3 L1251.9 201.1 L1252.6 213.3 L1253.4 212.2 L1253.9 193.3 L1254.5 190.5 L1255.6 192.9 L1256.3 192.5 L1257.4 182.1 L1258.9 182.1 L1260.0 183.9 L1261.0 178.8 L1261.8 182.5 L1262.8 190.2 L1263.6 182.5 L1264.7 172.3 L1266.1 164.3 L1267.4 160.7 L1268.6 162.5 L1269.4 165.1 L1269.9 169.0 L1270.8 169.4 L1271.5 158.2 L1272.6 158.2 L1273.0 169.4 L1273.7 178.8 L1274.4 194.5 L1275.1 194.0 L1275.6 184.0 L1276.6 183.2 L1277.5 188.0 L1278.4 186.8 L1279.2 189.5 L1279.9 181.7 L1281.3 179.6 L1282.1 183.2 L1282.6 190.5 L1283.2 194.3 L1284.2 194.7 L1285.3 190.5 L1285.8 191.8 L1286.4 199.1 L1287.1 204.9 L1288.2 205.6 L1288.6 217.2 L1290.0 216.5 L1291.8 212.9 L1292.6 215.1 L1294.4 210.4 L1295.4 215.8 L1296.5 237.4 L1298.3 236.7 L1299.5 238.1 L1300.3 225.1 L1301.4 223.7 L1302.3 232.3 L1303.0 230.2 L1304.4 222.3 L1305.7 217.9 L1306.6 224.4 L1307.9 223.0 L1309.5 228.4 L1310.5 227.3 L1311.3 220.1 L1312.7 221.9 L1314.1 220.1 L1314.9 222.3 L1315.2 208.2 L1315.9 208.2 L1316.7 213.6 L1318.1 217.2 L1318.8 224.4 L1320.4 229.1 L1322.1 226.9 L1323.1 217.9 L1324.2 208.6" fill="none" stroke="#173f6b" stroke-width="2.1" stroke-linejoin="round" stroke-linecap="round"/>
<line x1="1038" y1="178.4" x2="1343" y2="177.1" stroke="#f5193e" stroke-width="2.35"/>
<line x1="1032" y1="250.1" x2="1341" y2="249.6" stroke="#f5193e" stroke-width="2.35"/>
<path d="M1342.9 208.8 L1346.9 201.1 L1379 201.1 L1379 216.6 L1346.9 216.6 Z" fill="#1c4a7b" stroke="#1c4a7b" stroke-width="0.5" stroke-linejoin="round"/>
<text x="1349.2" y="212.1" font-size="10" fill="#f4f6fa" textLength="26.6" lengthAdjust="spacingAndGlyphs">0.6782</text>
<rect x="479" y="494.6" width="385" height="21.4" rx="2.5" fill="#f0f0f0"/>
<text class="lg" x="483.8" y="509.5" textLength="92.8" lengthAdjust="spacingAndGlyphs">Australian Dollar Spot</text>
<rect x="586" y="501.4" width="8.3" height="8" fill="#000"/>
<text class="lg" x="597.3" y="509.5" textLength="196.7" lengthAdjust="spacingAndGlyphs">Day to Day Total Return (Gross Dividends) on</text>
<rect x="804.2" y="501.3" width="8.6" height="8" fill="#1f4e84"/>
<rect x="815.5" y="499.9" width="44.2" height="10.8" fill="#0a0a0a"/>
<text x="816.6" y="509.4" font-size="9.7" fill="#f0f0f0" textLength="42" lengthAdjust="spacingAndGlyphs">Last Price</text>
<text class="src" x="4" y="551.4" textLength="205.3" lengthAdjust="spacingAndGlyphs">Source: Franklin Templeton, Bloomberg</text>
<rect x="0" y="0" width="1379" height="1.4" fill="#111"/>
<rect x="148.3" y="0" width="27.5" height="1.3" fill="#1b5fcf"/>
<rect x="269.7" y="0" width="19.5" height="1.3" fill="#1b5fcf"/>
<rect x="0" y="554.45" width="1379" height="1.6" fill="#050505"/>
<rect x="676.1" y="1.2" width="21.3" height="11.4" fill="#1c1c1c"/>
<rect x="676.5" y="1.9" width="19.8" height="9.8" fill="#b1b1b1"/>
<rect x="679.2" y="2.9" width="7.4" height="8.1" rx="1.3" fill="#e2e2e2"/>
<rect x="681" y="4.2" width="1.4" height="1" fill="#a8a8a8"/><rect x="683.4" y="4.2" width="1.4" height="1" fill="#a8a8a8"/>
<rect x="681" y="8.4" width="1.4" height="1.4" fill="#a8a8a8"/><rect x="683.4" y="8.4" width="1.4" height="1.4" fill="#a8a8a8"/>
<path d="M681.2 6.3 L682.9 7.6 L684.7 6.3" stroke="#ffffff" stroke-width="0.9" fill="none"/>
<path d="M692.3 6.2 L695.3 6.2 L693.8 7.7 Z" fill="#f0f0f0"/>
<rect x="679.1" y="13.1" width="32.6" height="10.6" fill="#232323"/>
<circle cx="687.4" cy="18.3" r="2" fill="none" stroke="#f2f2f2" stroke-width="1.4"/>
<text x="695.2" y="20.1" font-size="5.4" fill="#b9bdcc" textLength="13.8" lengthAdjust="spacingAndGlyphs">Reset</text>
</svg></body></html>
